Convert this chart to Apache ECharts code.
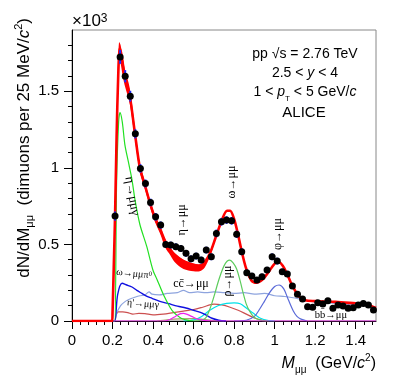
<!DOCTYPE html>
<html>
<head>
<meta charset="utf-8">
<script src="https://cdn.jsdelivr.net/npm/echarts@6/dist/echarts.min.js"></script>
<style>
  html, body { margin: 0; padding: 0; background: #fff; }
  #chart { width: 399px; height: 383px; }
</style>
</head>
<body>
<div id="chart"></div>
<script>
// measured dimuon spectrum (x10^3 per 25 MeV bin)
const dataMass = [0.2125,0.2375,0.2625,0.2875,0.3125,0.3375,0.3625,0.3875,0.4125,0.4375,
  0.4625,0.4875,0.5125,0.5375,0.5625,0.5875,0.6125,0.6375,0.6625,0.6875,
  0.7125,0.7375,0.7625,0.7875,0.8125,0.8375,0.8625,0.8875,0.9125,0.9375,
  0.9625,0.9875,1.0125,1.0375,1.0625,1.0875,1.1125,1.1375,1.1625,1.1875,
  1.2125,1.2375,1.2625,1.2875,1.3125,1.3375,1.3625,1.3875,1.4125,1.4375,1.4625,1.4875];
const dataYield = [0.685,1.724,1.598,1.468,1.222,0.996,0.898,0.774,0.680,0.626,
  0.500,0.496,0.485,0.474,0.442,0.406,0.424,0.398,0.463,0.419,
  0.572,0.648,0.659,0.654,0.566,0.452,0.315,0.294,0.267,0.289,
  0.333,0.419,0.391,0.322,0.307,0.228,0.174,0.144,0.093,0.089,
  0.119,0.111,0.132,0.083,0.104,0.098,0.083,0.087,0.104,0.115,0.104,0.072];
const dataErr = [0.03,0.045,0.04,0.035,0.03,0.028,0.026,0.025,0.025,0.024,
  0.022,0.022,0.022,0.022,0.022,0.022,0.022,0.022,0.022,0.022,
  0.025,0.025,0.025,0.025,0.024,0.022,0.02,0.02,0.02,0.02,
  0.02,0.022,0.022,0.02,0.02,0.018,0.018,0.016,0.016,0.016,
  0.016,0.016,0.016,0.016,0.016,0.016,0.016,0.016,0.016,0.016,0.016,0.016];

// cocktail sum (red) and its uncertainty band [mass, low, high]
const totalFit = [[0,0],[0.198,0],[0.2,0.05],[0.206,0.35],[0.2125,0.69],[0.22,1.2],[0.228,1.6],[0.236,1.78],
  [0.245,1.73],[0.26,1.6],[0.285,1.47],[0.31,1.23],[0.335,1.0],[0.36,0.885],[0.385,0.77],[0.41,0.67],
  [0.435,0.6],[0.46,0.52],[0.485,0.465],[0.51,0.425],[0.55,0.39],[0.6,0.365],[0.63,0.36],[0.655,0.385],
  [0.68,0.44],[0.71,0.55],[0.74,0.66],[0.765,0.72],[0.78,0.72],[0.8,0.665],[0.82,0.56],[0.84,0.44],
  [0.86,0.34],[0.885,0.265],[0.91,0.25],[0.94,0.27],[0.97,0.32],[1.0,0.375],[1.02,0.385],[1.04,0.36],
  [1.06,0.31],[1.08,0.25],[1.1,0.2],[1.12,0.16],[1.15,0.135],[1.2,0.13],[1.3,0.125],[1.4,0.115],
  [1.45,0.11],[1.5,0.085]];
const totalBand = [[0.212,0.66,0.72],[0.225,1.45,1.6],[0.232,1.7,1.82],[0.24,1.68,1.8],[0.25,1.6,1.72],
  [0.26,1.54,1.65],[0.285,1.42,1.52],[0.31,1.19,1.27],[0.335,0.97,1.03],[0.36,0.86,0.91],[0.385,0.745,0.79],
  [0.41,0.645,0.69],[0.435,0.57,0.62],[0.46,0.48,0.53],[0.485,0.43,0.48],[0.51,0.38,0.44],[0.55,0.34,0.40],
  [0.6,0.325,0.375],[0.63,0.325,0.37],[0.655,0.35,0.39],[0.68,0.42,0.45],[0.71,0.54,0.56]];

// cocktail components
const etaDalitz = [[0.2,0],[0.211,0],[0.22,0.9],[0.23,1.3],[0.237,1.36],[0.248,1.3],[0.261,1.15],[0.278,1.04],
  [0.295,0.93],[0.311,0.79],[0.335,0.63],[0.368,0.49],[0.4,0.33],[0.42,0.27],[0.452,0.17],[0.493,0.07],
  [0.52,0.035],[0.543,0.015],[0.58,0.003],[0.6,0]];
const omegaPeak = [[0.6,0],[0.64,0.005],[0.66,0.02],[0.675,0.06],[0.69,0.115],[0.705,0.18],[0.72,0.25],
  [0.735,0.31],[0.75,0.36],[0.765,0.39],[0.779,0.398],[0.795,0.38],[0.8125,0.34],[0.83,0.26],[0.845,0.18],
  [0.86,0.11],[0.878,0.06],[0.895,0.03],[0.911,0.015],[0.94,0.003],[0.97,0]];
const omegaDalitz = [[0.2,0],[0.211,0],[0.225,0.17],[0.247,0.246],[0.27,0.235],[0.296,0.222],[0.32,0.2],
  [0.345,0.18],[0.37,0.16],[0.395,0.148],[0.43,0.13],[0.477,0.113],[0.52,0.097],[0.562,0.085],[0.6,0.07],
  [0.63,0.058],[0.66,0.04],[0.691,0.018],[0.724,0.005],[0.76,0]];
const charm = [[0.2,0],[0.211,0],[0.22,0.05],[0.24,0.1],[0.26,0.125],[0.28,0.14],[0.31,0.155],[0.335,0.165],
  [0.36,0.17],[0.38,0.19],[0.395,0.175],[0.43,0.17],[0.47,0.18],[0.52,0.185],[0.55,0.2],[0.58,0.185],
  [0.62,0.19],[0.66,0.185],[0.7,0.19],[0.75,0.185],[0.8,0.18],[0.85,0.185],[0.9,0.175],[0.95,0.18],
  [1.0,0.165],[1.05,0.16],[1.1,0.15],[1.15,0.135],[1.2,0.125],[1.3,0.115],[1.4,0.105],[1.45,0.1],[1.5,0.09]];
const phiPeak = [[0.8,0],[0.86,0.005],[0.9,0.03],[0.927,0.08],[0.95,0.13],[0.975,0.185],[1.0,0.225],
  [1.022,0.235],[1.045,0.21],[1.067,0.14],[1.092,0.065],[1.11,0.03],[1.13,0.012],[1.16,0]];
const etaPrime = [[0.2,0],[0.211,0],[0.218,0.04],[0.228,0.06],[0.25,0.06],[0.275,0.055],[0.3,0.045],
  [0.33,0.05],[0.36,0.048],[0.4,0.04],[0.45,0.045],[0.5,0.055],[0.55,0.065],[0.6,0.075],[0.645,0.09],
  [0.7,0.11],[0.74,0.105],[0.78,0.09],[0.82,0.07],[0.86,0.045],[0.9,0.02],[0.94,0.005],[0.96,0]];
const rhoPeak = [[0.55,0],[0.6,0.007],[0.64,0.03],[0.68,0.07],[0.72,0.1],[0.763,0.115],[0.8,0.118],
  [0.83,0.113],[0.86,0.085],[0.895,0.05],[0.93,0.018],[0.97,0.003],[1.0,0]];
const etaPeak = [[0,0],[0.45,0],[0.48,0.008],[0.51,0.03],[0.535,0.048],[0.55,0.05],[0.565,0.045],
  [0.59,0.03],[0.62,0.012],[0.66,0.003],[0.7,0],[1.5,0]];
const phiDalitz = [[0.42,0],[0.47,0.008],[0.53,0.014],[0.6,0.016],[0.65,0.01],[0.7,0.003],[0.75,0]];

// axis ticks
const xMajor = [0,0.2,0.4,0.6,0.8,1,1.2,1.4];
const xMinor = [0.04,0.08,0.12,0.16,0.24,0.28,0.32,0.36,0.44,0.48,0.52,0.56,0.64,0.68,0.72,0.76,
  0.84,0.88,0.92,0.96,1.04,1.08,1.12,1.16,1.24,1.28,1.32,1.36,1.44,1.48];
const yMajor = [0,0.5,1,1.5];
const yMinor = [0.1,0.2,0.3,0.4,0.6,0.7,0.8,0.9,1.1,1.2,1.3,1.4,1.6,1.7,1.8];

const SANS = 'Liberation Sans, Arial, sans-serif';
const SERIF = 'Liberation Serif, DejaVu Serif, serif';

let chart = echarts.init(document.getElementById('chart'), null, {renderer: 'canvas'});

function curve(data, color, width) {
  return {
    type: 'line', data: data, symbol: 'none', smooth: 0.3,
    lineStyle: {color: color, width: width || 1.2}, itemStyle: {color: color},
    z: 2, silent: true
  };
}

function label(text, x, y, size, rot) {
  return {
    type: 'text', x: x, y: y, rotation: rot || 0,
    style: {
      text: text, fill: '#000', font: size + 'px ' + SERIF,
      align: 'center', verticalAlign: 'middle',
      rich: {sup: {fontSize: size * 0.65, fontFamily: SERIF, verticalAlign: 'top'}}
    },
    z: 20
  };
}

let option = {
  animation: false,
  grid: {left: 72, right: 23, top: 30, bottom: 62, show: true, borderColor: '#888', borderWidth: 1},
  xAxis: [{
    type: 'value', min: 0, max: 1.5,
    axisLine: {lineStyle: {color: '#000', width: 1}},
    axisTick: {customValues: xMajor, length: 8, lineStyle: {color: '#000'}},
    axisLabel: {customValues: xMajor, fontSize: 15, fontFamily: SANS, color: '#000', margin: 12},
    splitLine: {show: false}
  }, {
    type: 'value', min: 0, max: 1.5, position: 'bottom',
    axisLine: {show: false},
    axisTick: {customValues: xMinor, length: 4, lineStyle: {color: '#000'}},
    axisLabel: {show: false}, splitLine: {show: false}
  }],
  yAxis: [{
    type: 'value', min: 0, max: 1.9,
    axisLine: {show: true, lineStyle: {color: '#000', width: 1}},
    axisTick: {show: true, customValues: yMajor, length: 8, lineStyle: {color: '#000'}},
    axisLabel: {customValues: yMajor, fontSize: 15, fontFamily: SANS, color: '#000', margin: 13},
    splitLine: {show: false}
  }, {
    type: 'value', min: 0, max: 1.9, position: 'left',
    axisLine: {show: false},
    axisTick: {show: true, customValues: yMinor, length: 4, lineStyle: {color: '#000'}},
    axisLabel: {show: false}, splitLine: {show: false}
  }],
  series: [
    curve(phiDalitz, '#a89c6c'),
    curve(etaPrime, '#cc5050'),
    curve(rhoPeak, '#00e0e8'),
    curve(charm, '#8ea4de'),
    curve(phiPeak, '#5a6ad8'),
    curve(omegaDalitz, '#1010e0', 1.4),
    curve(omegaPeak, '#5ccc5c'),
    curve(etaDalitz, '#22e022'),
    curve(etaPeak, '#ee22ee'),
    {
      type: 'custom', z: 4, silent: true,
      data: [[0, 0]],
      renderItem: function (params, api) {
        let pts = totalBand.map(b => api.coord([b[0], b[2]]));
        let lo = totalBand.map(b => api.coord([b[0], b[1]])).reverse();
        return {type: 'polygon', shape: {points: pts.concat(lo), smooth: 0.3}, style: {fill: '#ff0000'}};
      }
    },
    Object.assign(curve(totalFit, '#ff0000', 2.6), {z: 5}),
    {
      type: 'custom', z: 6, silent: true,
      data: dataMass.map((m, i) => [m, dataYield[i], dataErr[i]]),
      renderItem: function (params, api) {
        let m = api.value(0), v = api.value(1), e = api.value(2);
        let a = api.coord([m, v - e]), b = api.coord([m, v + e]);
        return {type: 'line', shape: {x1: a[0], y1: a[1], x2: b[0], y2: b[1]},
          style: {stroke: '#1a2aff', lineWidth: 2}};
      }
    },
    {
      type: 'scatter', z: 7, silent: true, symbol: 'circle', symbolSize: 7,
      data: dataMass.map((m, i) => [m, dataYield[i]]),
      itemStyle: {color: '#000', opacity: 1}
    }
  ],
  graphic: [
    {type: 'text', x: 72, y: 21, style: {
      text: '×10{sup|3}', font: '17px ' + SANS, fill: '#000', verticalAlign: 'middle',
      rich: {sup: {fontSize: 12, fontFamily: SANS, verticalAlign: 'top'}}}},
    {type: 'text', x: 24, y: 18, rotation: Math.PI / 2, style: {
      text: 'dN/dM{sub|μμ}  (dimuons per 25 MeV/{i|c}{sup|2})', font: '17px ' + SANS, fill: '#000',
      align: 'right', verticalAlign: 'middle', lineHeight: 22,
      rich: {
        sub: {fontSize: 11, fontFamily: SANS, verticalAlign: 'bottom'},
        sup: {fontSize: 11, fontFamily: SANS, verticalAlign: 'top'},
        i: {fontSize: 17, fontFamily: SANS, fontStyle: 'italic'}
      }}},
    {type: 'text', x: 376, y: 364, style: {
      text: '{i|M}{sub|μμ}  (GeV/{i|c}{sup|2})', font: '16px ' + SANS, fill: '#000',
      align: 'right', verticalAlign: 'middle', lineHeight: 22,
      rich: {
        sub: {fontSize: 10, fontFamily: SANS, verticalAlign: 'bottom'},
        sup: {fontSize: 10, fontFamily: SANS, verticalAlign: 'top'},
        i: {fontSize: 16, fontFamily: SANS, fontStyle: 'italic'}
      }}},
    {type: 'text', x: 305, y: 54, style: {text: 'pp √s = 2.76 TeV', font: '14px ' + SANS, fill: '#000',
      align: 'center', verticalAlign: 'middle'}},
    {type: 'text', x: 305, y: 73.5, style: {text: '2.5 < {i|y} < 4', font: '14px ' + SANS, fill: '#000',
      align: 'center', verticalAlign: 'middle',
      rich: {i: {fontSize: 14, fontFamily: SANS, fontStyle: 'italic'}}}},
    {type: 'text', x: 305, y: 92.5, style: {text: '1 < {i|p}{sub|T} < 5 GeV/{i|c}', font: '14px ' + SANS, fill: '#000',
      align: 'center', verticalAlign: 'middle', lineHeight: 20,
      rich: {i: {fontSize: 14, fontFamily: SANS, fontStyle: 'italic'},
        sub: {fontSize: 8, fontFamily: SANS, verticalAlign: 'bottom'}}}},
    {type: 'text', x: 304, y: 113, style: {text: 'ALICE', font: '15px ' + SANS, fill: '#000',
      align: 'center', verticalAlign: 'middle'}},
    label('η→μμγ', 132, 196, 13, -1.4),
    label('η→μμ', 181.5, 220, 12, Math.PI / 2),
    label('ω→μμ', 232, 182, 12, Math.PI / 2),
    label('φ→μμ', 278, 234, 12, Math.PI / 2),
    label('ρ→μμ', 228, 281, 12, Math.PI / 2),
    label('ω→μμπ{sup|0}', 134, 274, 10, -0.1),
    label("η'→μμγ", 143, 304, 10, -0.08),
    label('cc̄→μμ', 191, 284, 12, 0),
    label('bb̄→μμ', 331, 315, 10.5, 0)
  ]
};

chart.setOption(option);
</script>
</body>
</html>
